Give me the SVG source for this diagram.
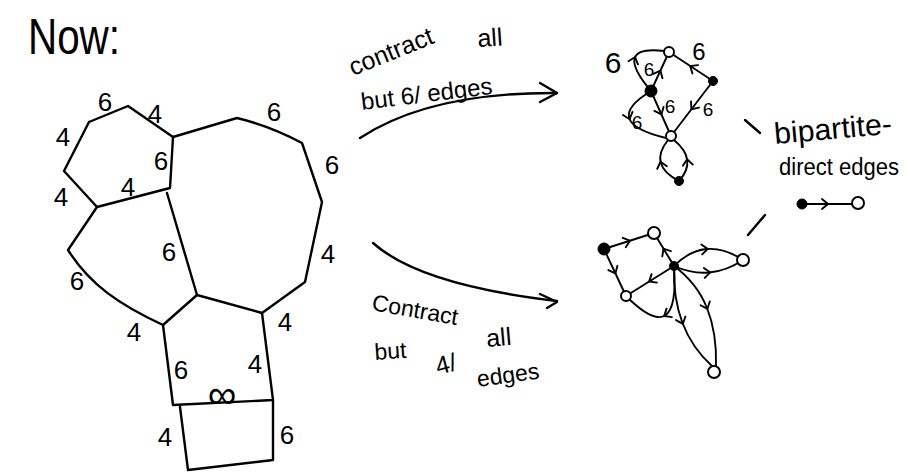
<svg xmlns="http://www.w3.org/2000/svg" width="908" height="474" viewBox="0 0 908 474">
<style>
.e{fill:none;stroke:#000;stroke-width:2.4;stroke-linecap:round;stroke-linejoin:round}
.c{fill:none;stroke:#000;stroke-width:1.9;stroke-linecap:round;marker-mid:url(#chev)}
.a{fill:none;stroke:#000;stroke-width:2.4;stroke-linecap:round;stroke-linejoin:round}
.t{font-family:"Liberation Sans",Arial,sans-serif;fill:#000}
.l{font-family:"Liberation Sans",Arial,sans-serif;font-size:26px;text-anchor:middle;fill:#000}
.s{font-family:"Liberation Sans",Arial,sans-serif;font-size:19px;text-anchor:middle;fill:#000}
.open{fill:#fff;stroke:#000;stroke-width:2}
.full{fill:#000;stroke:#000;stroke-width:1}
</style>
<defs>
<marker id="chev" markerUnits="userSpaceOnUse" markerWidth="14" markerHeight="14" viewBox="-7 -7 14 14" refX="1" refY="0" orient="auto">
<path d="M-4,-5 L2,0 L-4,5" fill="none" stroke="#000" stroke-width="1.9" stroke-linecap="round"/>
</marker>
</defs>
<rect width="908" height="474" fill="#fff"/>

<text class="t" x="28" y="54" font-size="50" textLength="92" lengthAdjust="spacingAndGlyphs">Now:</text>

<!-- left planar map -->
<g id="left-map">
<g id="connectors-left">
<path class="e" d="M89,122 L128,106 L173,137"/>
<path class="e" d="M89,122 L64,171 L97,207 L170,188 L173,137"/>
<path class="e" d="M173,137 L237,118 Q270,126 302,143 L322,202 L305,282 L262,313"/>
<path class="e" d="M167,193 L197,295"/>
<path class="e" d="M97,207 L68,250 C90,285 120,305 163,325 L197,295 L262,313"/>
<path class="e" d="M163,325 L173,405 L273,400 L262,313"/>
<path class="e" d="M180,407 L188,470 L273,460 L273,400"/>
</g>
<g id="left-labels">
<text class="l" x="105" y="111">6</text>
<text class="l" x="155" y="123">4</text>
<text class="l" x="63" y="146">4</text>
<text class="l" x="161" y="170">6</text>
<text class="l" x="128" y="196">4</text>
<text class="l" x="61" y="206">4</text>
<text class="l" x="274" y="121">6</text>
<text class="l" x="332" y="174">6</text>
<text class="l" x="169" y="261">6</text>
<text class="l" x="77" y="290">6</text>
<text class="l" x="328" y="263">4</text>
<text class="l" x="134" y="341">4</text>
<text class="l" x="285" y="331">4</text>
<text class="l" x="181" y="379">6</text>
<text class="l" x="255" y="373">4</text>
<text class="t" x="222" y="408" font-size="40" text-anchor="middle">∞</text>
<text class="l" x="165" y="446">4</text>
<text class="l" x="287" y="444">6</text>
</g>
</g>

<!-- transformation arrows -->
<g id="arrows">
<path class="a" d="M360,138 Q430,92 557,93"/>
<path class="a" d="M540,83 L557,93 L540,102"/>
<path class="a" d="M373,243 Q420,285 557,301"/>
<path class="a" d="M540,294 L557,302 L547,308"/>
</g>
<g id="arrow-labels">
<text class="t" font-size="25" transform="translate(353,76) rotate(-22)">contract</text>
<text class="t" font-size="25" transform="translate(478,47) rotate(-4)">all</text>
<text class="t" font-size="24" transform="translate(362,110) rotate(-7)">but 6/ edges</text>
<text class="t" font-size="23" transform="translate(371,310) rotate(10)">Contract</text>
<text class="t" font-size="25" transform="translate(487,347) rotate(-5)">all</text>
<text class="t" font-size="23" transform="translate(375,360) rotate(-4)">but</text>
<text class="t" font-size="25" transform="translate(438,375) rotate(-15)">4/</text>
<text class="t" font-size="23" transform="translate(478,387) rotate(-8)">edges</text>
</g>

<!-- top-right graph -->
<g id="graph-top">
<g id="connectors-top">
<path class="c" d="M713,81 L691,66.5 L669,52"/>
<path class="c" d="M651,91 L660,71.5 L669,52"/>
<path class="c" d="M651,91 Q631.5,68 634.75,58 Q638,48 664,51"/>
<path class="c" d="M651,91 L661,113.5 L671,136"/>
<path class="c" d="M651,91 Q625.5,106.5 629.25,118.25 Q633,130 666,138"/>
<path class="c" d="M713,81 L692,108.5 L671,136"/>
<path class="c" d="M679,181 Q663.5,173 660.75,162.75 Q658,152.5 668,140"/>
<path class="c" d="M679,181 Q688.5,170.5 687.25,160.25 Q686,150 674,140"/>
</g>
<g id="t-a"><circle class="open" cx="669" cy="52" r="5"/></g>
<g id="t-b"><circle class="full" cx="713" cy="81" r="4.5"/></g>
<g id="t-c"><circle class="full" cx="651" cy="91" r="6"/></g>
<g id="t-d"><circle class="open" cx="671" cy="136" r="5"/></g>
<g id="t-e"><circle class="full" cx="679" cy="181" r="4.5"/></g>
<g id="top-labels">
<text class="t" x="613" y="73" font-size="30" text-anchor="middle">6</text>
<text class="s" x="649" y="76">6</text>
<text class="t" x="699" y="60" font-size="24" text-anchor="middle">6</text>
<text class="s" x="670" y="113">6</text>
<text class="s" x="637" y="129">6</text>
<text class="s" x="708" y="116">6</text>
</g>
</g>

<!-- bottom-right graph -->
<g id="graph-bottom">
<g id="connectors-bottom">
<path class="c" d="M604,249 L629,241 L654,233"/>
<path class="c" d="M674,266 L664,249.5 L654,233"/>
<path class="c" d="M604,249 L615,272.5 L626,296"/>
<path class="c" d="M674,266 L650,281 L626,296"/>
<path class="c" d="M674,266 Q677,308 665,315.5 Q653,323 626,296"/>
<path class="c" d="M674,266 Q689.5,250.5 706.75,249 Q724,247.5 743,260"/>
<path class="c" d="M674,266 Q692,274 709.25,272.5 Q726.5,271 743,260"/>
<path class="c" d="M674,266 Q673,298 682.5,323 Q692,348 712,366"/>
<path class="c" d="M674,266 Q697,283 707,308 Q717,333 716,366"/>
</g>
<g id="b-f"><circle class="full" cx="604" cy="249" r="6"/></g>
<g id="b-g"><circle class="open" cx="654" cy="233" r="6"/></g>
<g id="b-h"><circle class="full" cx="674" cy="266" r="4.5"/></g>
<g id="b-i"><circle class="open" cx="743" cy="260" r="6"/></g>
<g id="b-j"><circle class="open" cx="626" cy="296" r="5"/></g>
<g id="b-k"><circle class="open" cx="714" cy="372" r="6"/></g>
</g>

<!-- legend -->
<g id="legend">
<path class="a" d="M745,120 L760,133"/>
<path class="a" d="M748,235 L765,215"/>
<text class="t" font-size="30" textLength="118" lengthAdjust="spacingAndGlyphs" transform="translate(775,144) rotate(-5)">bipartite-</text>
<text class="t" font-size="23" x="779" y="175" textLength="120" lengthAdjust="spacingAndGlyphs">direct edges</text>
<g id="legend-edge">
<path class="c" d="M802,204 L827,204 L852,204"/>
</g>
<g id="legend-filled"><circle class="full" cx="802" cy="204" r="5"/></g>
<g id="legend-open"><circle class="open" cx="858" cy="203" r="6"/></g>
</g>
</svg>
